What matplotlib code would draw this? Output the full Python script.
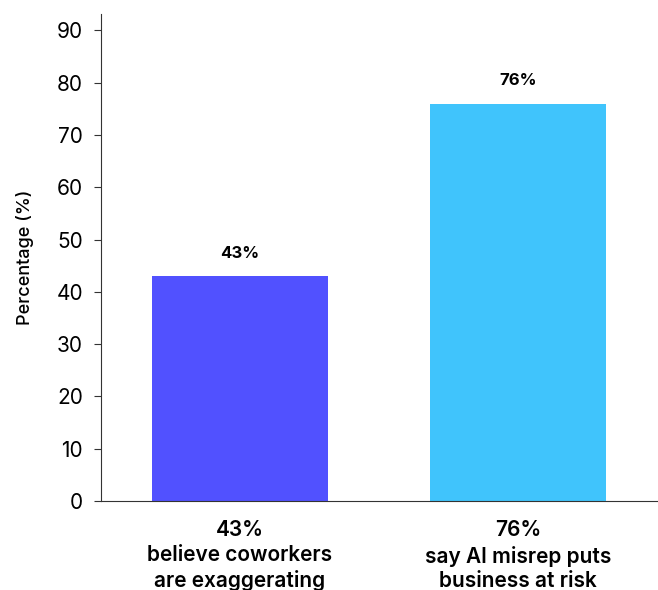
import matplotlib.pyplot as plt

plt.rcParams['font.family'] = ['Inter', 'DejaVu Sans']

categories = ["43%\nbelieve coworkers\nare exaggerating", "76%\nsay AI misrep puts\nbusiness at risk"]
values = [43, 76]
colors = ["#5151FF", "#40C4FC"]

fig = plt.figure(figsize=(6.58, 5.9), dpi=100)
ax = fig.add_axes([0.1535, 0.1508, 0.845, 0.825])

pos = list(range(len(values)))
bars = ax.bar(pos, values, width=0.633, color=colors)

for b, v in zip(bars, values):
    ax.annotate(f"{v}%", (b.get_x() + b.get_width() / 2, v),
                xytext=(0, 11), textcoords="offset points",
                ha="center", va="bottom", fontsize=12, fontweight="bold")

ax.set_xlim(-0.5, 1.5)
ax.set_ylim(0, 93.1)
ax.set_yticks(range(0, 100, 10))
ax.set_xticks(pos)
ax.set_xticklabels(categories, fontsize=15, fontweight="semibold", linespacing=1.3)
ax.tick_params(axis="x", length=0, pad=14)
ax.tick_params(axis="y", labelsize=15, length=5, pad=8, color="#333333")
ax.set_ylabel("Percentage (%)", fontsize=13, fontweight="medium", labelpad=16)

for s in ["top", "right"]:
    ax.spines[s].set_visible(False)
for s in ["left", "bottom"]:
    ax.spines[s].set_color("#333333")

fig.savefig("out.png", dpi=100)
